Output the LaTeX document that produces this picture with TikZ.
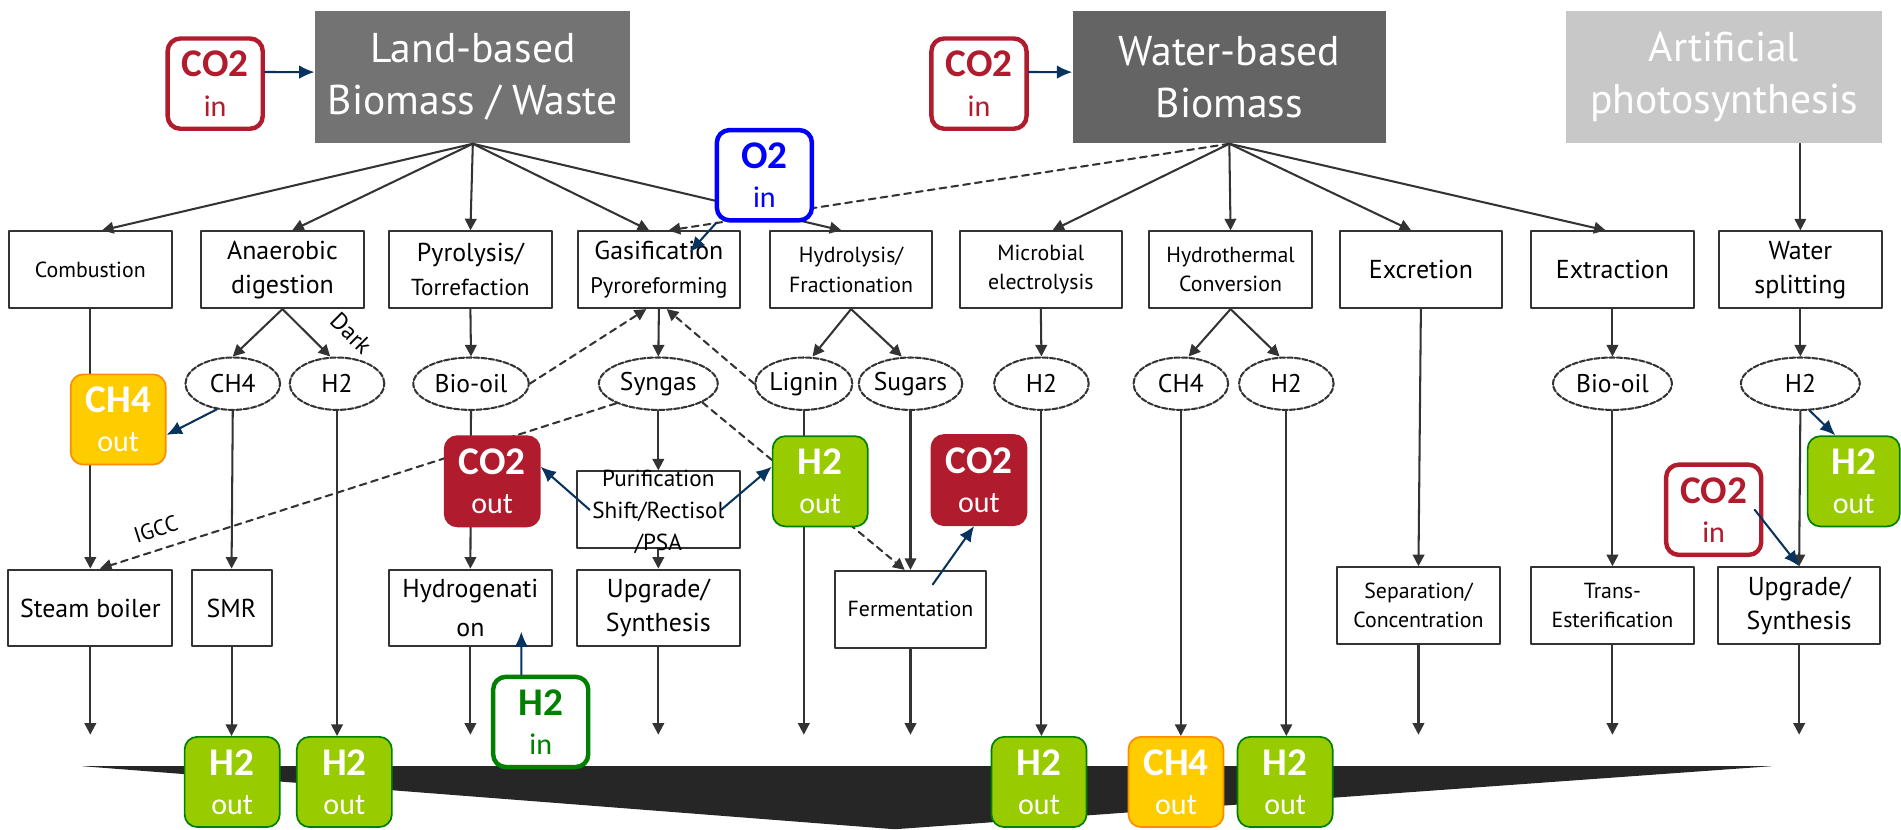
\documentclass[tikz,border=0pt]{standalone}
\usepackage{fontspec}
\setmainfont{PT Sans}
\newfontfamily\tagfont{Carlito}
\usetikzlibrary{arrows.meta}
\usetikzlibrary{shapes.geometric}
\definecolor{tagred}{HTML}{B01C2E}
\definecolor{tagyellow}{HTML}{FFCC00}
\definecolor{tagorange}{HTML}{FF8C00}
\definecolor{taggreen}{HTML}{99CC00}
\definecolor{darkgreen}{HTML}{008000}
\definecolor{tagblue}{HTML}{0000FF}
\definecolor{navy}{HTML}{07335E}
\definecolor{linegray}{HTML}{333333}
\definecolor{landgray}{HTML}{737373}
\definecolor{watergray}{HTML}{646464}
\definecolor{artgray}{HTML}{C8C8C8}
\definecolor{wedgegray}{HTML}{262626}
\newcommand{\tagtxt}[2]{{\bfseries\fontsize{11.5}{11.5}\selectfont #1}\\#2}

\tikzset{
  proc/.style={draw=linegray, line width=0.6pt, fill=white, minimum width=1.675cm, minimum height=0.79cm, inner sep=1pt, align=center, font=\fontsize{7.6}{10}\selectfont},
  smalltxt/.style={font=\fontsize{6.4}{8.6}\selectfont},
  prod/.style={ellipse, draw=linegray, line width=0.6pt, dash pattern=on 1.6pt off 0.6pt, fill=white, minimum width=0.975cm, minimum height=0.54cm, inner sep=0pt, font=\fontsize{7.5}{9}\selectfont},
  head/.style={minimum width=3.25cm, minimum height=1.3625cm, inner sep=0pt, text=white, align=center, font=\fontsize{12.2}{15.3}\selectfont},
  tag/.style={rounded corners=1.3mm, minimum width=0.98cm, minimum height=0.93cm, inner sep=0pt, align=center, font=\tagfont\fontsize{8.8}{11.5}\selectfont},
  tagin/.style={tag, draw=#1, line width=1.3pt, fill=white, text=#1},
  tagout/.style 2 args={tag, draw=#1, line width=0.5pt, fill=#2, text=white},
  flow/.style={draw=linegray, line width=0.6pt, ->},
  alt/.style={flow, dash pattern=on 2pt off 1.5pt},
  feed/.style={draw=navy, line width=0.6pt, -{Latex[length=4.5pt,width=4pt]}}
}

\begin{document}
\begin{tikzpicture}[line cap=round,line join=round,>={Triangle[length=3.4pt,width=3.4pt]},x=0.0125cm,y=-0.0125cm]
\useasboundingbox (0,0) rectangle (1568,684);
\fill[wedgegray] (68,632) -- (1461,632) -- (738,684) -- cycle;
\coordinate (base) at (0,606);
\coordinate (o2tip) at (569,208);
\coordinate (h2tip) at (430,521);

\node[head, fill=landgray] (land) at (390,63.5) {Land-based\\Biomass / Waste};
\node[head, fill=watergray, minimum width=3.225cm] (water) at (1014,63.5) {Water-based\\Biomass};
\node[head, fill=artgray] (art) at (1422,63.5) {Artificial\\photosynthesis};

\node[proc, smalltxt] (comb) at (74.5,222.5) {Combustion};
\node[proc] (anaer) at (233,222.5) {Anaerobic\\digestion};
\node[proc] (pyro) at (388,222.5) {Pyrolysis/\\{\fontsize{6.8}{8}\selectfont Torrefaction}};
\node[proc] (gas) at (543.5,222.5) {Gasification\\{\fontsize{6.6}{8}\selectfont Pyroreforming}};
\node[proc, smalltxt] (hydrol) at (702,222.5) {Hydrolysis/\\Fractionation};
\node[proc, smalltxt] (micro) at (858.5,222.5) {Microbial\\electrolysis};
\node[proc, smalltxt] (hyth) at (1015,222.5) {Hydrothermal\\Conversion};
\node[proc] (excr) at (1172,222.5) {Excretion};
\node[proc] (extr) at (1330,222.5) {Extraction};
\node[proc] (wsplit) at (1485,222.5) {Water\\splitting};

\node[prod] (ch4a) at (192,316.5) {CH4};
\node[prod] (h2a) at (278,316.5) {H2};
\node[prod, minimum width=1.19cm] (bio) at (388.5,316.5) {Bio-oil};
\node[prod, minimum width=1.225cm] (syn) at (543,316.5) {Syngas};
\node[prod, minimum width=1cm] (lig) at (663,316.5) {Lignin};
\node[prod] (sug) at (751,316.5) {Sugars};
\node[prod] (h2m) at (859,316.5) {H2};
\node[prod] (ch4h) at (974,316.5) {CH4};
\node[prod] (h2h) at (1061,316.5) {H2};
\node[prod, minimum width=1.225cm] (bioe) at (1330,316.5) {Bio-oil};
\node[prod, minimum width=1.225cm] (h2w) at (1485,316.5) {H2};

\node[proc] (purif) at (543,420.5) {};
\node[align=center, inner sep=0pt, font=\fontsize{6.8}{9.4}\selectfont] (puriftxt) at (543,422) {Purification\\Shift/Rectisol\\/PSA};

\node[proc, minimum width=1.69cm] (steam) at (74.5,501.5) {Steam boiler};
\node[proc, minimum width=0.825cm] (smr) at (191,501.5) {SMR};
\node[proc, font=\fontsize{7.6}{11.4}\selectfont] (hydrog) at (388,501.5) {Hydrogenati\\on};
\node[proc] (upg) at (543,501.5) {Upgrade/\\Synthesis};
\node[proc, smalltxt, minimum width=1.55cm] (ferm) at (751,502.5) {Fermentation};
\node[proc, smalltxt] (sep) at (1170,499.5) {Separation/\\Concentration};
\node[proc, smalltxt] (trans) at (1330,499.5) {Trans-\\Esterification};
\node[proc] (upg2) at (1484,499.5) {Upgrade/\\Synthesis};

\foreach \t/\s in {comb/1.2mm, anaer/1mm, pyro/0mm, gas/-1mm, hydrol/-1mm}
  \draw[flow] (land.south) -- ([xshift=\s]\t.north);
\foreach \t/\s in {micro/1.2mm, hyth/0mm, excr/-1mm, extr/-0.7mm}
  \draw[flow] (water.south) -- ([xshift=\s]\t.north);
\draw[alt] (water.south) -- ([xshift=1mm]gas.north);
\draw[flow] (wsplit.north |- art.south) -- (wsplit.north);

\draw[flow] (anaer.south) -- (ch4a.north);
\draw[flow] (anaer.south) -- ([xshift=-0.7mm]h2a.north) node[pos=0.98, sloped, above=3pt, font=\fontsize{7}{8}\selectfont] {Dark};
\draw[flow] (pyro.south) -- (bio.north);
\draw[flow] (gas.south) -- (syn.north);
\draw[flow] (hydrol.south) -- ([xshift=0.9mm]lig.north);
\draw[flow] (hydrol.south) -- ([xshift=-0.9mm]sug.north);
\draw[flow] (micro.south) -- (h2m.north);
\draw[flow] (hyth.south) -- ([xshift=0.8mm]ch4h.north);
\draw[flow] (hyth.south) -- ([xshift=-0.7mm]h2h.north);
\draw[flow] (extr.south) -- (bioe.north);
\draw[flow] (wsplit.south) -- (h2w.north);

\draw[alt] (bio.east) -- ([xshift=-1.3mm]gas.south);
\draw[alt] (lig.west) -- ([xshift=0.8mm]gas.south);
\draw[alt] (syn.205) -- ([xshift=1mm]steam.north) node[pos=0.88, sloped, above, font=\fontsize{6.5}{7}\selectfont] {IGCC};
\draw[alt] (syn.-23) -- ([xshift=-0.6mm]ferm.north);

\draw[flow] (comb.south) -- (steam.north);
\draw[flow] (ch4a.south) -- (smr.north);
\draw[flow] (bio.south) -- (hydrog.north);
\draw[flow] (syn.south) -- (purif.north);
\draw[flow] (purif.south) -- (upg.north);
\draw[flow] (sug.south) -- (ferm.north);
\draw[flow] (excr.south) -- (sep.north);
\draw[flow] (bioe.south) -- (trans.north);
\draw[flow] (h2w.south) -- (upg2.north);
\foreach \n in {steam, hydrog, upg, ferm, sep, trans, upg2, lig}
  \draw[flow] (\n.south) -- (\n.south |- base);

\node[tagin=tagred] (co2inL) at (177.5,69) {\tagtxt{CO2}{in}};
\node[tagin=tagred] (co2inW) at (807.5,69) {\tagtxt{CO2}{in}};
\node[tagin=tagblue] (o2in) at (630.5,144.5) {\tagtxt{O2}{in}};
\node[tagout={tagorange}{tagyellow}] (ch4outA) at (97.5,346) {\tagtxt{CH4}{out}};
\node[tagout={tagred}{tagred}] (co2outA) at (406,397) {\tagtxt{CO2}{out}};
\node[tagout={darkgreen}{taggreen}] (h2outM) at (676.5,397) {\tagtxt{H2}{out}};
\node[tagout={tagred}{tagred}] (co2outB) at (807.5,396) {\tagtxt{CO2}{out}};
\node[tagout={darkgreen}{taggreen}, minimum width=0.95cm] (h2outR) at (1529,397) {\tagtxt{H2}{out}};
\node[tagin=tagred] (co2inR) at (1413.5,420.5) {\tagtxt{CO2}{in}};
\node[tagin=darkgreen] (h2in) at (446,595.5) {\tagtxt{H2}{in}};
\node[tagout={darkgreen}{taggreen}] (h2outA) at (191.5,645) {\tagtxt{H2}{out}};
\node[tagout={darkgreen}{taggreen}] (h2outB) at (284,645) {\tagtxt{H2}{out}};
\node[tagout={darkgreen}{taggreen}] (h2outC) at (857,645) {\tagtxt{H2}{out}};
\node[tagout={tagorange}{tagyellow}] (ch4outB) at (970,645) {\tagtxt{CH4}{out}};
\node[tagout={darkgreen}{taggreen}] (h2outD) at (1060,645) {\tagtxt{H2}{out}};

\draw[flow] (smr.south) -- (smr.south |- h2outA.north);
\draw[flow] (h2a.south) -- (h2a.south |- h2outB.north);
\draw[flow] (h2m.south) -- (h2m.south |- h2outC.north);
\draw[flow] (ch4h.south) -- (ch4h.south |- ch4outB.north);
\draw[flow] (h2h.south) -- (h2h.south |- h2outD.north);

\draw[feed] ([yshift=1.2mm]co2inL.east) -- ([yshift=0.5mm]land.west);
\draw[feed] ([yshift=1.2mm]co2inW.east) -- ([yshift=0.5mm]water.west);
\draw[feed] ([xshift=0.2mm]o2in.south west) -- (o2tip);
\draw[feed] (ch4a.238) -- ([yshift=-1.6mm]ch4outA.east);
\draw[feed] ([xshift=1.4mm]purif.west) -- ([yshift=1.5mm]co2outA.east);
\draw[feed] ([xshift=-2mm]purif.east) -- ([yshift=1.5mm]h2outM.west);
\draw[feed] ([xshift=2.3mm,yshift=-1.5mm]ferm.north) -- ([xshift=-0.5mm]co2outB.south);
\draw[feed] ([xshift=-2mm]h2in.north) -- (h2tip);
\draw[feed] (h2w.-71) -- ([xshift=-1.9mm]h2outR.north);
\draw[feed] ([xshift=-0.9mm]co2inR.east) -- (upg2.north);
\end{tikzpicture}
\end{document}
